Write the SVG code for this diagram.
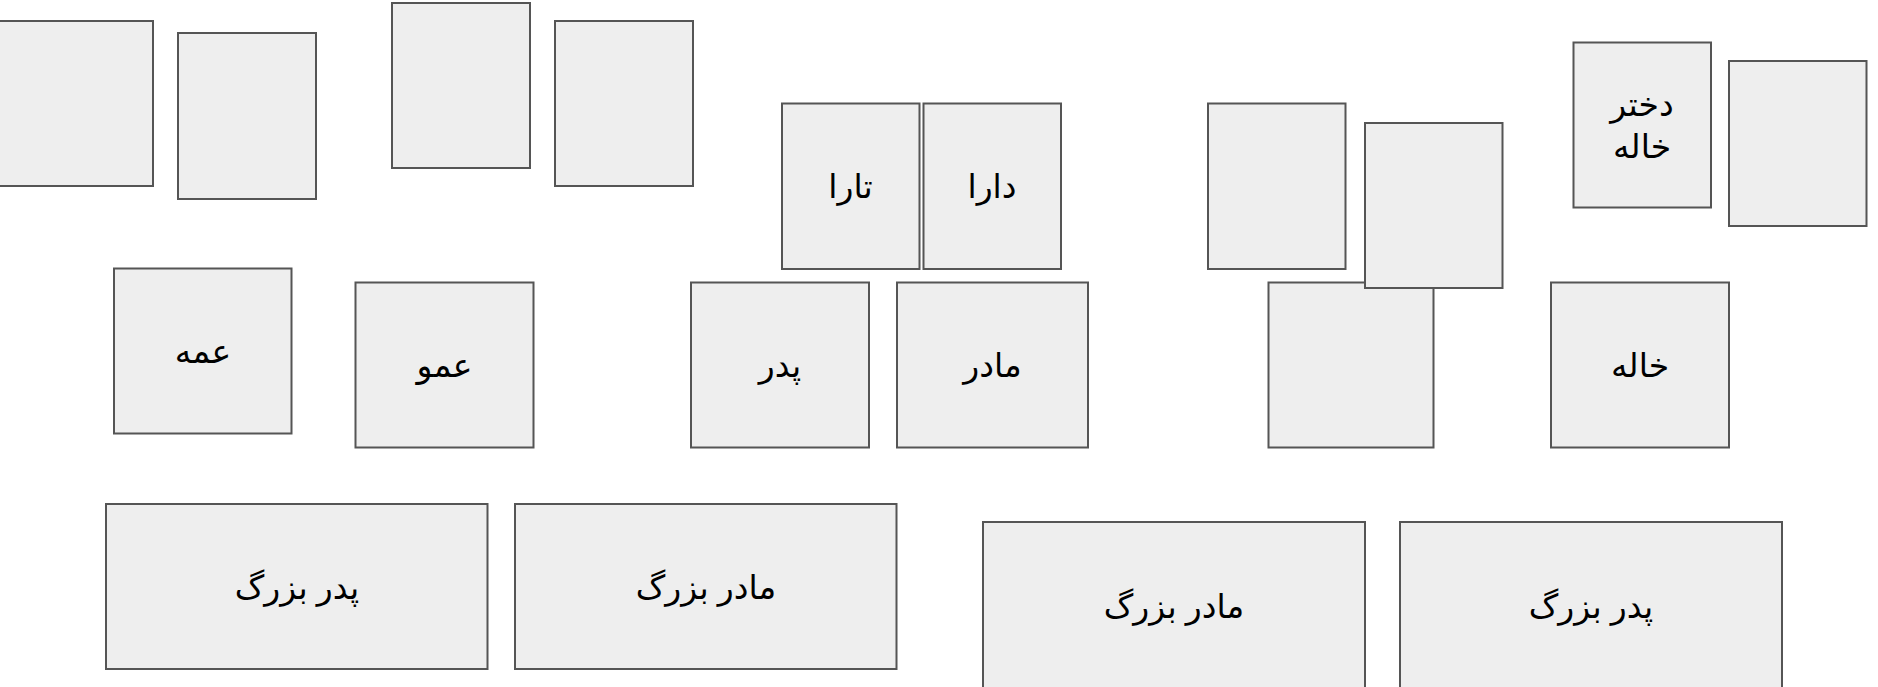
<svg xmlns="http://www.w3.org/2000/svg" width="1878" height="687" viewBox="0 0 1878 687">
<style>
.b{fill:#eeeeee;stroke:#555555;stroke-width:2}
.t{font-family:"Liberation Sans","DejaVu Sans",sans-serif;font-size:33px;fill:#000;text-anchor:middle;dominant-baseline:central;direction:rtl}
</style>
<rect width="1878" height="687" fill="#ffffff"/>
<g id="connectors"></g>
<g id="n1"><rect class="b" x="-1" y="21" width="154" height="165"/></g>
<g id="n2"><rect class="b" x="178" y="33" width="138" height="166"/></g>
<g id="n3"><rect class="b" x="392" y="3" width="138" height="165"/></g>
<g id="n4"><rect class="b" x="555" y="21" width="138" height="165"/></g>
<g id="n5"><rect class="b" x="782" y="103.5" width="137.5" height="165.5"/><text class="t" x="850.5" y="186">تارا</text></g>
<g id="n6"><rect class="b" x="923.5" y="103.5" width="137.5" height="165.5"/><text class="t" x="992" y="186">دارا</text></g>
<g id="n7"><rect class="b" x="1208" y="103.5" width="137.5" height="165.5"/></g>
<g id="n11"><rect class="b" x="114" y="268.5" width="177.5" height="165"/><text class="t" x="203" y="351">عمه</text></g>
<g id="n12"><rect class="b" x="355.5" y="282.5" width="178" height="165"/><text class="t" x="444.5" y="365">عمو</text></g>
<g id="n13"><rect class="b" x="691" y="282.5" width="178" height="165"/><text class="t" x="780" y="365">پدر</text></g>
<g id="n14"><rect class="b" x="897" y="282.5" width="191" height="165"/><text class="t" x="992.5" y="365">مادر</text></g>
<g id="n15"><rect class="b" x="1268.5" y="282.5" width="165" height="165"/></g>
<g id="n8"><rect class="b" x="1365" y="123" width="137.5" height="165"/></g>
<g id="n9"><rect class="b" x="1573.5" y="42.5" width="137.5" height="165"/><text class="t" x="1642" y="104">دختر</text><text class="t" x="1642" y="146">خاله</text></g>
<g id="n10"><rect class="b" x="1729" y="61" width="137.5" height="165"/></g>
<g id="n16"><rect class="b" x="1551" y="282.5" width="178" height="165"/><text class="t" x="1640" y="365">خاله</text></g>
<g id="n17"><rect class="b" x="106" y="504" width="381.5" height="165"/><text class="t" x="297" y="587">پدر بزرگ</text></g>
<g id="n18"><rect class="b" x="515" y="504" width="381.5" height="165"/><text class="t" x="706" y="587">مادر بزرگ</text></g>
<g id="n19"><rect class="b" x="983" y="522" width="382" height="170"/><text class="t" x="1174" y="606">مادر بزرگ</text></g>
<g id="n20"><rect class="b" x="1400" y="522" width="382" height="170"/><text class="t" x="1591" y="606">پدر بزرگ</text></g>
</svg>
